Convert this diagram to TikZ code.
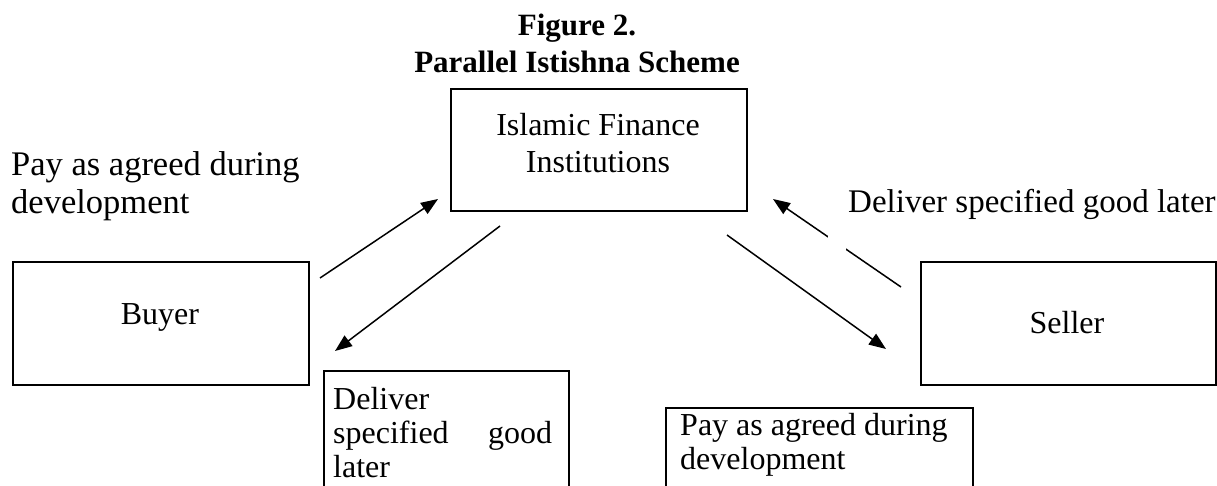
\documentclass[tikz,border=0pt]{standalone}
\usepackage{fontspec}
\setmainfont{Liberation Serif}
\usetikzlibrary{arrows.meta}
\begin{document}
\begin{tikzpicture}[x=1pt,y=-1pt,
  box/.style={draw, line width=1.5pt, rectangle, inner sep=0pt, anchor=north west},
  txt/.style={inner sep=0pt, font=\fontsize{32}{36}\selectfont},
  txtb/.style={inner sep=0pt, font=\fontsize{32}{34}\selectfont},
  ttl/.style={inner sep=0pt, font=\fontsize{31}{37}\selectfont\bfseries},
  arr/.style={line width=1.5pt, -{Triangle[length=17pt,width=13pt]}}]
\useasboundingbox (0,0) rectangle (1217,485);
% title
\node[ttl, anchor=base] (title) at (577,35) {\begin{tabular}[t]{@{}c@{}}Figure 2.\\Parallel Istishna Scheme\end{tabular}};
% boxes
\node[box, minimum width=296pt, minimum height=122pt] (ifi) at (450,88) {};
\node[txt, anchor=base, font=\fontsize{32}{37}\selectfont] (ifit) at (598,135) {\begin{tabular}[t]{@{}c@{}}Islamic Finance\\Institutions\end{tabular}};
\node[box, minimum width=296pt, minimum height=123pt] (buyer) at (12,261) {};
\node[txt, anchor=base] (buyert) at (160,324) {Buyer};
\node[box, minimum width=295pt, minimum height=123pt] (seller) at (920,261) {};
\node[txt, anchor=base] (sellert) at (1067,333) {Seller};
\node[box, minimum width=245pt, minimum height=130pt] (dbox) at (323,370) {};
\node[txtb, anchor=base west] (dboxt) at (333,409) {\begin{tabular}[t]{@{}l@{}}Deliver\\\makebox[219pt][s]{specified good}\\later\end{tabular}};
\node[box, minimum width=307pt, minimum height=100pt] (pbox) at (665,407) {};
\node[txtb, anchor=base west] (pboxt) at (680,435) {\begin{tabular}[t]{@{}l@{}}Pay as agreed during\\development\end{tabular}};
% free labels
\node[txt, anchor=base west, font=\fontsize{34.5}{38}\selectfont] (lpay) at (11,175) {\begin{tabular}[t]{@{}l@{}}Pay as agreed during\\development\end{tabular}};
\node[txt, anchor=base west, font=\fontsize{33}{37}\selectfont] (rdel) at (848,212) {Deliver specified good later};
% arrows
\coordinate (a1s) at (320,278); \coordinate (a1e) at (438,199);
\coordinate (a2s) at (500,226); \coordinate (a2e) at (335,351);
\coordinate (a3s) at (727,235); \coordinate (a3e) at (886,349);
\coordinate (a4s) at (901,287); \coordinate (a4e) at (773,199);
\draw[arr] (a1s) -- (a1e);
\draw[arr] (a2s) -- (a2e);
\draw[arr] (a3s) -- (a3e);
\draw[arr] (a4s) -- (a4e);
\fill[white] (828,232) rectangle (846,256);
\end{tikzpicture}
\end{document}
